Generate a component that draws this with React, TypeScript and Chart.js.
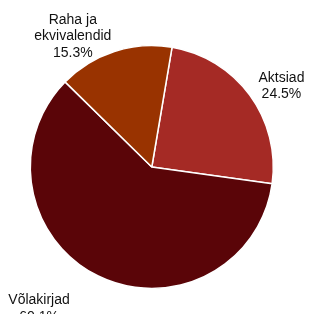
import React, { useEffect, useRef } from "react";
import { Chart, registerables } from "chart.js";

Chart.register(...registerables);

const categories = ["Aktsiad", "Võlakirjad", "Raha ja ekvivalendid"];
const values = [24.5, 60.1, 15.3];
const labelLines = [["Aktsiad", "24.5%"], ["Võlakirjad", "60.1%"], ["Raha ja", "ekvivalendid", "15.3%"]];
const colors = ["#A52A25", "#5A0508", "#993300"];

// label layout: angle shift from slice mid-angle (deg) and distance beyond the rim (px)
const LABEL_SHIFT_DEG = [3.9, 12.6, -13.0];
const LABEL_EXTRA = [32, 58.5, 32];

const outsideLabels = {
  id: "outsideLabels",
  afterDraw(chart: any) {
    const ctx = chart.ctx;
    const meta = chart.getDatasetMeta(0);
    ctx.save();
    ctx.font = "14px 'Liberation Sans', Arial, sans-serif";
    ctx.fillStyle = "#111";
    ctx.textAlign = "center";
    ctx.textBaseline = "alphabetic";
    const lh = 16.5;
    meta.data.forEach((arc: any, i: number) => {
      const { x, y, startAngle, endAngle, outerRadius } = arc.getProps(
        ["x", "y", "startAngle", "endAngle", "outerRadius"],
        true
      );
      const mid = (startAngle + endAngle) / 2 + (LABEL_SHIFT_DEG[i] * Math.PI) / 180;
      const d = outerRadius + LABEL_EXTRA[i];
      const cx = x + d * Math.cos(mid);
      const cy = y + d * Math.sin(mid);
      const lines = labelLines[i];
      const n = lines.length;
      lines.forEach((t, k) => {
        const by = cy + (k - (n - 1) / 2) * lh + 5;
        ctx.fillText(t, cx, by);
      });
    });
    ctx.restore();
  },
};

export default function App() {
  const ref = useRef<HTMLCanvasElement>(null);
  useEffect(() => {
    if (!ref.current) return;
    const chart = new Chart(ref.current, {
      type: "pie",
      data: {
        labels: categories,
        datasets: [
          {
            data: values,
            backgroundColor: colors,
            borderColor: "#ffffff",
            borderWidth: 1.5,
          },
        ],
      },
      options: {
        responsive: false,
        animation: false,
        rotation: 9.6,
        radius: 121.5,
        layout: { padding: { left: 0, right: 5.4, top: 20, bottom: 0 } },
        plugins: {
          legend: { display: false },
          tooltip: { enabled: false },
        },
      },
      plugins: [outsideLabels],
    });
    return () => chart.destroy();
  }, []);
  return (
    <div style={{ position: "absolute", left: 0, top: 0, width: 309, height: 314, background: "#fff" }}>
      <canvas ref={ref} width={309} height={314} />
    </div>
  );
}
